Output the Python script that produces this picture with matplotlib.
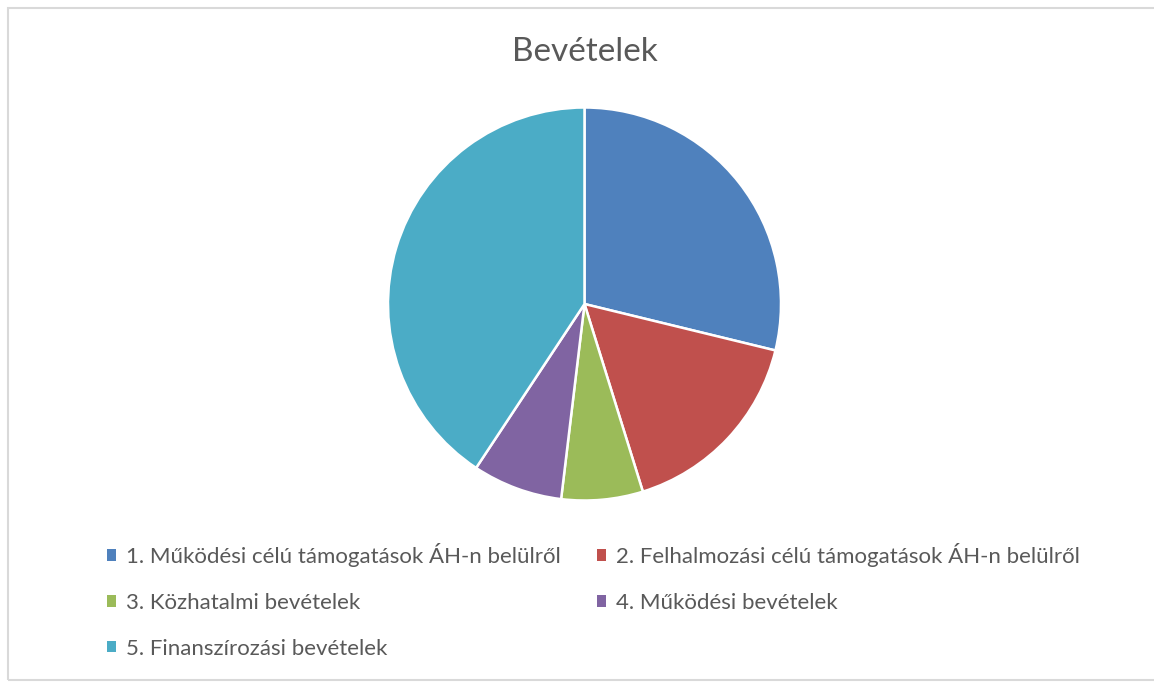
import matplotlib.pyplot as plt
from matplotlib.patches import Rectangle

labels = ["1. Működési célú támogatások ÁH-n belülről",
          "2. Felhalmozási célú támogatások ÁH-n belülről",
          "3. Közhatalmi bevételek",
          "4. Működési bevételek",
          "5. Finanszírozási bevételek"]
shares = [28.8, 16.4, 6.7, 7.4, 40.7]
colors = ["#4F81BD", "#C0504D", "#9BBB59", "#8064A2", "#4BACC6"]

plt.rcParams['font.family'] = ['Lato', 'DejaVu Sans']

fig = plt.figure(figsize=(11.54, 6.82), dpi=100)
# chart border (right edge is cropped off in the reference)
fig.patches.append(Rectangle((8/1154, 2/682), 1160/1154, 672/682, transform=fig.transFigure,
                             fill=False, edgecolor="#D9D9D9", linewidth=1.5))

# pie axes: center ~(584.5, 304) px, radius ~196.5 px
ax = fig.add_axes([388/1154, (682-304-196.5)/682, 393/1154, 393/682])
wedges, _ = ax.pie(shares, colors=colors, startangle=90, counterclock=False,
                   wedgeprops=dict(edgecolor="white", linewidth=1.8))
ax.set_xlim(-1, 1)
ax.set_ylim(-1, 1)
ax.axis("off")

fig.text(585/1154, 1-52/682, "Bevételek", ha="center", va="center",
         fontsize=24, color="#595959")

order = [0, 2, 4, 1, 3]
leg = fig.legend([wedges[i] for i in order], [labels[i] for i in order],
                 ncol=2, loc="upper left", bbox_to_anchor=(106.5/1154, 1-543/682),
                 frameon=False, fontsize=16, labelcolor="#595959",
                 handlelength=0.42, handleheight=0.42, handletextpad=0.45,
                 labelspacing=1.16, columnspacing=1.62, borderpad=0,
                 borderaxespad=0)
for h in leg.legend_handles:
    h.set_edgecolor("none")

fig.savefig("out.png", dpi=100)
